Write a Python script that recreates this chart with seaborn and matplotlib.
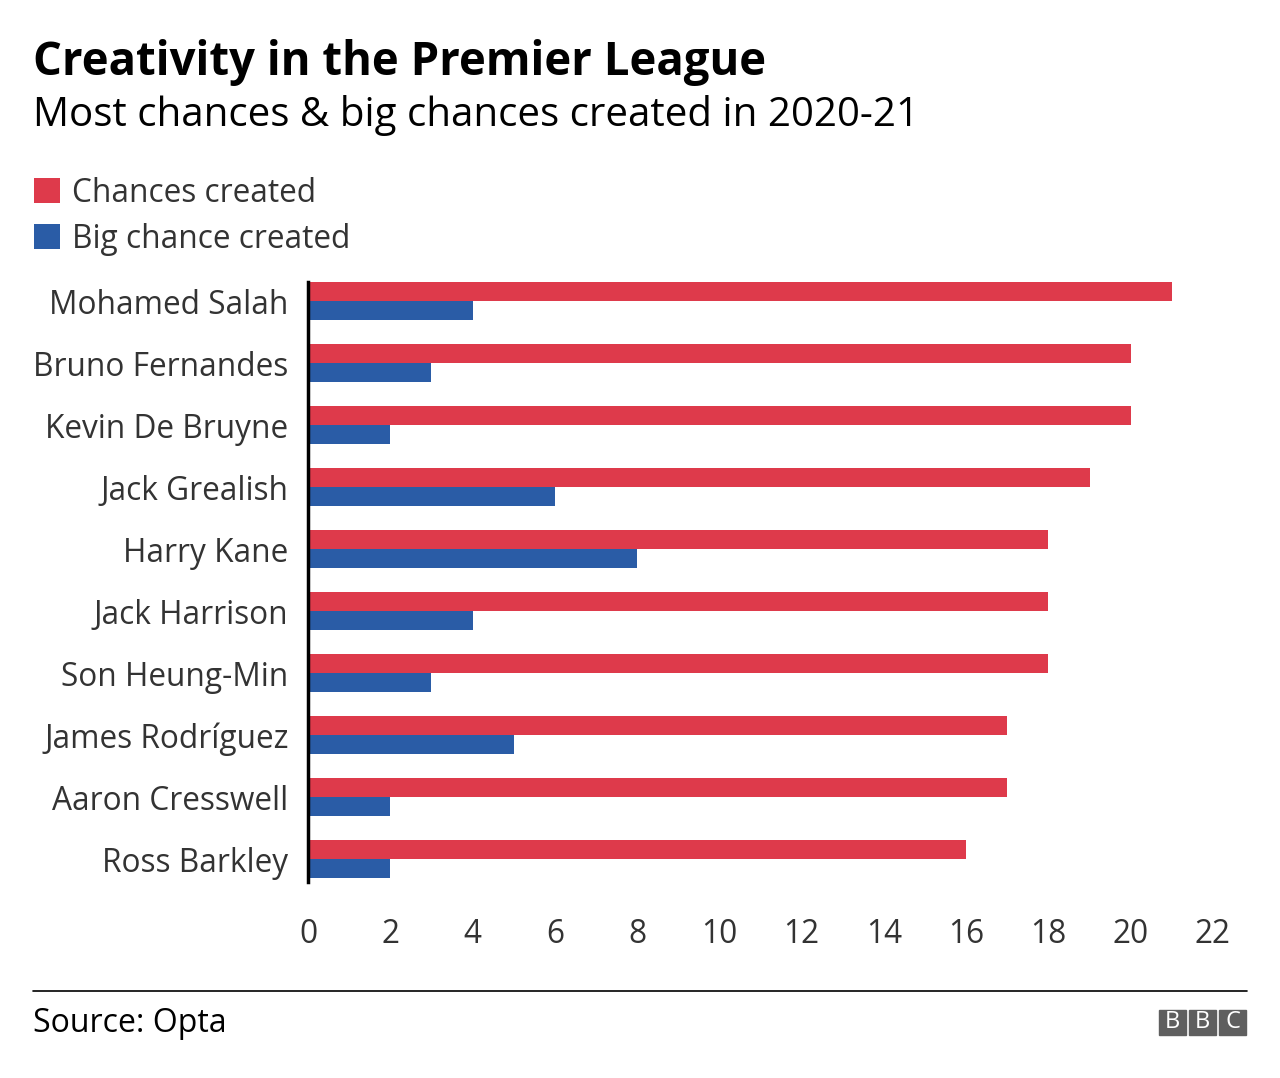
import matplotlib.pyplot as plt
import seaborn as sns
import pandas as pd
from matplotlib.patches import Rectangle

players = ['Mohamed Salah', 'Bruno Fernandes', 'Kevin De Bruyne', 'Jack Grealish',
           'Harry Kane', 'Jack Harrison', 'Son Heung-Min', 'James Rodríguez',
           'Aaron Cresswell', 'Ross Barkley']
chances = [21, 20, 20, 19, 18, 18, 18, 17, 17, 16]
big_chances = [4, 3, 2, 6, 8, 4, 3, 5, 2, 2]
series = ['Chances created', 'Big chance created']
colors = ['#de3a4b', '#2a5ca6']
xticks = list(range(0, 23, 2))

df = pd.DataFrame({'player': players, series[0]: chances, series[1]: big_chances})
df = df.melt(id_vars='player', var_name='series', value_name='value')

sns.set_style('white')
plt.rcParams['font.family'] = ['Open Sans', 'DejaVu Sans']

fig = plt.figure(figsize=(12.8, 10.78), dpi=100)
ax = fig.add_axes([308 / 1280, 1 - 882 / 1078, (1213 - 308) / 1280, 600 / 1078])

sns.barplot(data=df, y='player', x='value', hue='series', hue_order=series,
            palette=colors, orient='h', width=0.62, saturation=1, linewidth=0, ax=ax)

ax.set_xlim(0, 22)
ax.set_ylim(9.37, -0.31)
ax.set_xticks(xticks)
ax.set_xlabel('')
ax.set_ylabel('')
for s in ['top', 'right', 'bottom']:
    ax.spines[s].set_visible(False)
ax.spines['left'].set_color('black')
ax.spines['left'].set_linewidth(2.5)
ax.tick_params(axis='y', length=0, pad=14, labelsize=22.8, labelcolor='#333333')
ax.tick_params(axis='x', length=0, pad=26, labelsize=22.8, labelcolor='#333333')

# legend in the top-left, above the plot
handles, labels = ax.get_legend_handles_labels()
ax.get_legend().remove()
fig.legend(handles, labels, loc='upper left', bbox_to_anchor=(5 / 1280, 1 - 148 / 1078),
           frameon=False, fontsize=22.8, handlelength=0.85, handleheight=0.85,
           handletextpad=0.35, labelspacing=0.42, labelcolor='#333333')

fig.text(33 / 1280, 1 - 63 / 1078, 'Creativity in the Premier League',
         fontsize=32.8, fontweight='bold', color='black', va='center')
fig.text(33 / 1280, 1 - 115 / 1078, 'Most chances & big chances created in 2020-21',
         fontsize=29, color='black', va='center')

# footer
fig.add_artist(plt.Line2D([33 / 1280, 1247 / 1280], [1 - 991 / 1078] * 2,
                          color='black', linewidth=1.2))
fig.text(33 / 1280, 1 - 1023 / 1078, 'Source: Opta', fontsize=23, color='black',
         va='center')
for i, letter in enumerate('BBC'):
    x0 = (1159 + i * 30) / 1280
    fig.add_artist(Rectangle((x0, 1 - 1035 / 1078), 27 / 1280, 25 / 1078,
                             color='#5f5f5f', transform=fig.transFigure))
    fig.text(x0 + 13.5 / 1280, 1 - 1022.5 / 1078, letter, fontsize=17,
             color='white', ha='center', va='center')

fig.savefig('out.png', dpi=100)
